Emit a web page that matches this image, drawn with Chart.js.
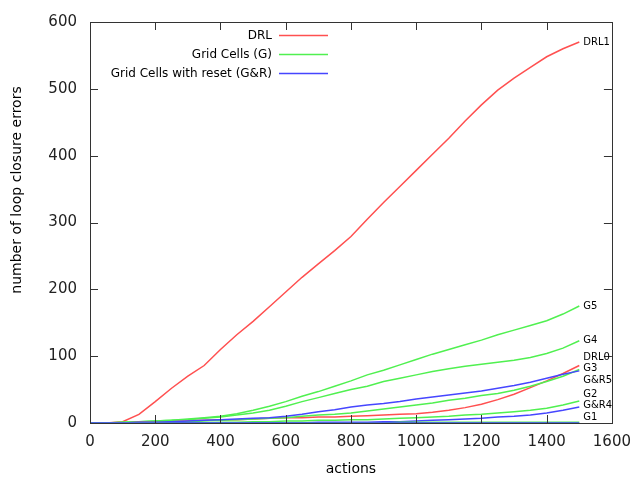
<!DOCTYPE html>
<html>
<head>
<meta charset="utf-8">
<script src="https://cdn.jsdelivr.net/npm/chart.js@4"></script>
<style>
  html, body { margin: 0; padding: 0; background: #fff; }
  #wrap { width: 641px; height: 478px; }
</style>
</head>
<body>
<div id="wrap"><canvas id="loopChart" width="641" height="478"></canvas></div>
<script>
// x values shared by every run (actions, step 50)
const actions = [0, 50, 100, 150, 200, 250, 300, 350, 400, 450, 500, 550, 600, 650, 700, 750,
                 800, 850, 900, 950, 1000, 1050, 1100, 1150, 1200, 1250, 1300, 1350, 1400, 1450, 1500];

// loop closure errors per run
const drl1 = [0, 0, 2, 13, 32, 52, 70, 86, 110, 132, 152, 174, 196, 218, 238, 258,
              279, 305, 330, 354, 378, 402, 426, 452, 476, 498, 516, 532, 548, 560, 570];
const drl0 = [0, 0, 0, 1, 1, 2, 3, 4, 5, 5, 6, 7, 8, 8, 9, 9,
              10, 11, 12, 13, 14, 16, 19, 23, 28, 35, 43, 53, 63, 74, 86];
const g5   = [0, 0, 1, 2, 3, 4, 6, 8, 10, 14, 19, 25, 32, 40, 47, 55,
              63, 72, 79, 87, 95, 103, 110, 117, 124, 132, 139, 146, 153, 163, 175];
const g4   = [0, 0, 1, 2, 3, 4, 5, 7, 9, 12, 15, 19, 25, 32, 38, 44,
              50, 55, 62, 67, 72, 77, 81, 85, 88, 91, 94, 98, 104, 112, 123];
const g3   = [0, 0, 0, 0, 1, 2, 2, 3, 4, 5, 6, 7, 8, 10, 12, 13,
              15, 18, 21, 24, 27, 30, 34, 37, 41, 44, 49, 55, 62, 70, 80];
const g2   = [0, 0, 0, 0, 0, 0, 0, 0, 1, 1, 2, 2, 3, 3, 4, 4,
              5, 5, 6, 7, 8, 9, 10, 12, 13, 15, 17, 19, 22, 27, 33];
const g1   = [0, 0, 0, 0, 0, 0, 0, 0, 0, 0, 0, 0, 0, 0, 0, 0,
              0, 0, 0, 1, 1, 1, 1, 1, 1, 1, 1, 1, 1, 1, 1];
const gr5  = [0, 0, 0, 1, 1, 2, 3, 4, 5, 6, 7, 8, 10, 13, 17, 20,
              24, 27, 29, 32, 36, 39, 42, 45, 48, 52, 56, 61, 67, 73, 78];
const gr4  = [0, 0, 0, 0, 0, 0, 0, 0, 0, 0, 0, 0, 0, 0, 1, 1,
              1, 1, 2, 2, 3, 4, 5, 6, 7, 9, 10, 12, 15, 19, 24];
const grLow = [0, 0, 0, 0, 0, 0, 0, 0, 0, 0, 0, 0, 0, 0, 0, 0,
               0, 0, 0, 0, 0, 0, 0, 0, 0, 0, 0, 0, 0, 0, 0];

const xTicks = [0, 200, 400, 600, 800, 1000, 1200, 1400, 1600];
const yTicks = [0, 100, 200, 300, 400, 500, 600];

const legendNames = ['DRL', 'Grid Cells (G)', 'Grid Cells with reset (G&R)'];

const RED = 'rgb(255,80,80)';
const GREEN = 'rgb(80,240,80)';
const BLUE = 'rgb(70,70,255)';
const FONT = '"DejaVu Sans", sans-serif';

function series(name, values, color, showLabel) {
    return {
        label: name,
        data: actions.map((a, i) => ({ x: a, y: values[i] })),
        borderColor: color,
        borderWidth: 1.5,
        pointRadius: 0,
        fill: false,
        tension: 0,
        endLabel: showLabel,
    };
}

// gnuplot-like box with inward ticks on all four sides
const framePlugin = {
    id: 'frame',
    afterDatasetsDraw(chart) {
        const { ctx, chartArea: a, scales } = chart;
        ctx.save();
        ctx.strokeStyle = '#333';
        ctx.lineWidth = 1;
        ctx.strokeRect(Math.round(a.left) + 0.5, Math.round(a.top) + 0.5,
                       Math.round(a.right - a.left), Math.round(a.bottom - a.top));
        const len = 8;
        ctx.beginPath();
        xTicks.forEach(v => {
            const px = Math.round(scales.x.getPixelForValue(v)) + 0.5;
            ctx.moveTo(px, a.bottom); ctx.lineTo(px, a.bottom - len);
            ctx.moveTo(px, a.top); ctx.lineTo(px, a.top + len);
        });
        yTicks.forEach(v => {
            const py = Math.round(scales.y.getPixelForValue(v)) + 0.5;
            ctx.moveTo(a.left, py); ctx.lineTo(a.left + len, py);
            ctx.moveTo(a.right, py); ctx.lineTo(a.right - len, py);
        });
        ctx.stroke();
        ctx.restore();
    }
};

// names written at the end of each curve, nudged apart so they don't overlap
const endLabelPlugin = {
    id: 'endLabels',
    afterDatasetsDraw(chart) {
        const { ctx, chartArea: a } = chart;
        const items = [];
        chart.data.datasets.forEach((ds, i) => {
            if (!ds.endLabel) return;
            const pts = chart.getDatasetMeta(i).data;
            const last = pts[pts.length - 1];
            items.push({ text: ds.label, x: last.x, y: last.y });
        });
        items.sort((p, q) => p.y - q.y);
        const gap = 11.5;
        const maxY = a.bottom - 6;
        for (let k = 0; k < 60; k++) {
            for (let i = 1; i < items.length; i++) {
                const d = items[i].y - items[i - 1].y;
                if (d < gap) {
                    const push = (gap - d) / 2;
                    items[i].y += push;
                    items[i - 1].y -= push;
                }
            }
            items.forEach(it => { if (it.y > maxY) it.y = maxY; });
        }
        ctx.save();
        ctx.font = '10px ' + FONT;
        ctx.fillStyle = '#000';
        ctx.textAlign = 'left';
        ctx.textBaseline = 'middle';
        items.forEach(it => ctx.fillText(it.text, it.x + 4, it.y));
        ctx.restore();
    }
};

const keyPlugin = {
    id: 'key',
    afterDraw(chart) {
        const { ctx } = chart;
        const colors = [RED, GREEN, BLUE];
        const rows = [35.5, 54.5, 73.5];
        ctx.save();
        ctx.font = '12px ' + FONT;
        ctx.fillStyle = '#000';
        ctx.textAlign = 'right';
        ctx.textBaseline = 'middle';
        legendNames.forEach((name, i) => {
            ctx.fillText(name, 272, rows[i]);
            ctx.strokeStyle = colors[i];
            ctx.lineWidth = 1.5;
            ctx.beginPath();
            ctx.moveTo(279, rows[i]);
            ctx.lineTo(328, rows[i]);
            ctx.stroke();
        });
        // y axis title
        ctx.translate(17, 190);
        ctx.rotate(-Math.PI / 2);
        ctx.font = '14px ' + FONT;
        ctx.textAlign = 'center';
        ctx.fillText('number of loop closure errors', 0, 0);
        ctx.restore();
    }
};

const chartData = {
    datasets: [
        series('G&R1', grLow, BLUE, false),
        series('G1', g1, GREEN, true),
        series('G&R4', gr4, BLUE, true),
        series('G2', g2, GREEN, true),
        series('G&R5', gr5, BLUE, true),
        series('G3', g3, GREEN, true),
        series('DRL0', drl0, RED, true),
        series('G4', g4, GREEN, true),
        series('G5', g5, GREEN, true),
        series('DRL1', drl1, RED, true),
    ],
};

const chartConfig = {
    type: 'line',
    data: chartData,
    options: {
        responsive: false,
        animation: false,
        layout: { padding: { top: 18, right: 25, left: 0, bottom: 0 } },
        plugins: {
            legend: { display: false },
            tooltip: { enabled: false },
        },
        scales: {
            x: {
                type: 'linear',
                min: 0,
                max: 1600,
                afterBuildTicks: s => { s.ticks = xTicks.map(v => ({ value: v })); },
                afterFit: s => { s.height = 55; },
                grid: { display: false, drawTicks: false },
                border: { display: false },
                ticks: {
                    color: '#222', padding: 10, maxRotation: 0,
                    font: { family: FONT, size: 15 },
                    callback: v => String(v),
                },
                title: {
                    display: true, text: 'actions', color: '#000',
                    padding: { top: 4, bottom: 0 },
                    font: { family: FONT, size: 14 },
                },
            },
            y: {
                type: 'linear',
                min: 0,
                max: 600,
                afterBuildTicks: s => { s.ticks = yTicks.map(v => ({ value: v })); },
                afterFit: s => { s.width = 90; },
                grid: { display: false, drawTicks: false },
                border: { display: false },
                ticks: {
                    color: '#222', padding: 13,
                    font: { family: FONT, size: 15 },
                    callback: v => String(v),
                },
            },
        },
    },
    plugins: [framePlugin, endLabelPlugin, keyPlugin],
};

const ctx = document.getElementById('loopChart').getContext('2d');
const loopChart = new Chart(ctx, chartConfig);
</script>
</body>
</html>
